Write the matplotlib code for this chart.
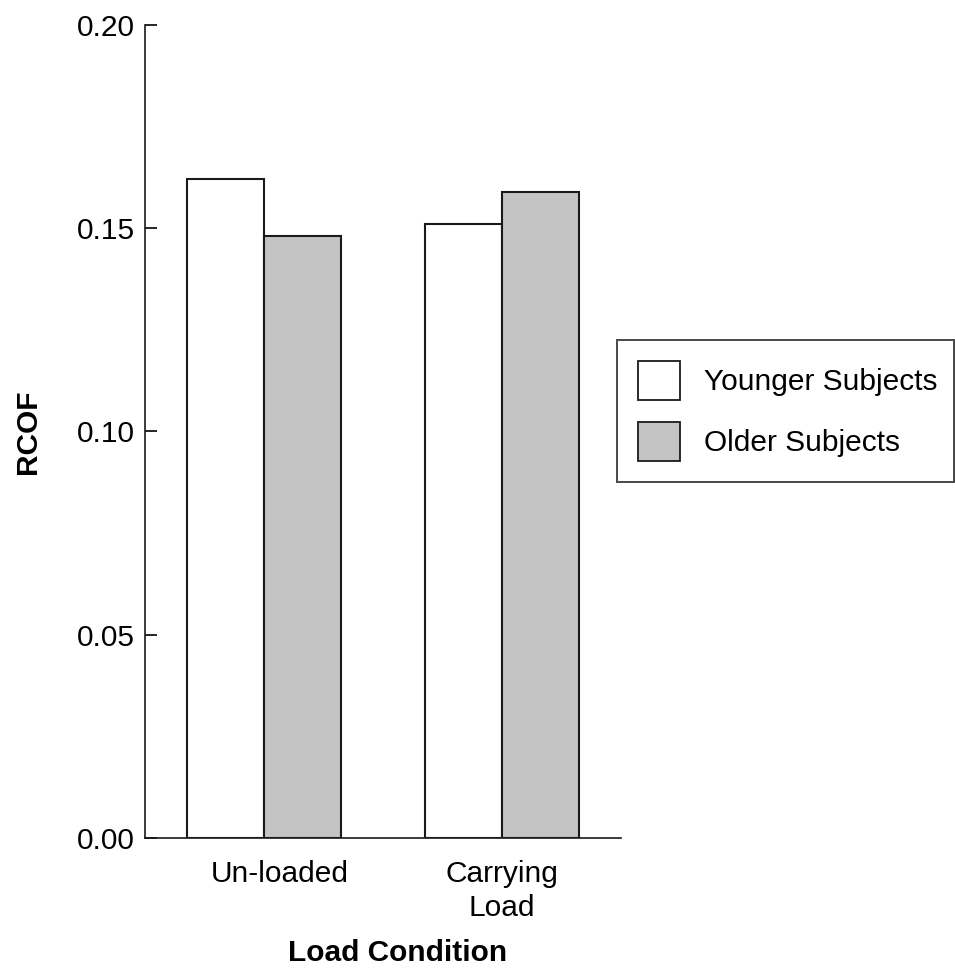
import matplotlib
matplotlib.use("Agg")
import matplotlib.pyplot as plt
import matplotlib.transforms as mtransforms
import numpy as np
from matplotlib.patches import Patch

plt.rcParams["font.family"] = ["Liberation Sans", "DejaVu Sans"]

# data
conditions = ["Un-loaded", "Carrying\nLoad"]
younger = [0.162, 0.151]
older = [0.148, 0.159]
yticks = [0.00, 0.05, 0.10, 0.15, 0.20]

fig = plt.figure(figsize=(9.55, 9.71), dpi=100)
ax = fig.add_axes([0.1518, 0.137, 0.4985, 0.8373])

x = np.arange(len(conditions))
w = 0.323
edge = "#1a1a1a"
ax.bar(x - w / 2, younger, width=w, color="white", edgecolor=edge, linewidth=1.5)
ax.bar(x + w / 2, older, width=w, color="#c4c4c4", edgecolor=edge, linewidth=1.5)

ax.set_xlim(-0.5, 1.5)
ax.set_ylim(0, 0.2)
ax.set_yticks(yticks)
ax.set_yticklabels([f"{v:.2f}" for v in yticks], fontsize=21.5)
ax.set_xticks(x)
ax.set_xticklabels(conditions, fontsize=21.5, linespacing=1.25)

ax.spines["top"].set_visible(False)
ax.spines["right"].set_visible(False)
for s in ("left", "bottom"):
    ax.spines[s].set_linewidth(1.2)
    ax.spines[s].set_color(edge)
ax.tick_params(axis="y", direction="in", length=8.5, width=1.2, pad=7, colors="black")
ax.tick_params(axis="x", length=0, pad=16, colors="black")

# the first label sits a little right of its group in the original
lbl = ax.get_xticklabels()[0]
lbl.set_transform(lbl.get_transform() + mtransforms.ScaledTranslation(0.16, 0, fig.dpi_scale_trans))

ax.set_ylabel("RCOF", fontsize=21.5, fontweight="bold", labelpad=25)
ax.set_xlabel("Load Condition", fontsize=21.5, fontweight="bold", va="center")
ax.xaxis.set_label_coords(0.531, -0.1415)

handles = [Patch(facecolor="white", edgecolor=edge, linewidth=1.3, label="Younger Subjects"),
           Patch(facecolor="#c4c4c4", edgecolor=edge, linewidth=1.3, label="Older Subjects")]
leg = fig.legend(handles=handles, loc="upper left", bbox_to_anchor=(0.646, 0.5, 0.353, 0.1498),
                 mode="expand", fontsize=21.5, frameon=True, fancybox=False, borderpad=0.7,
                 handlelength=1.4, handleheight=1.65, handletextpad=0.8,
                 labelspacing=0.72, borderaxespad=0)
leg.get_frame().set_edgecolor(edge)
leg.get_frame().set_linewidth(1.4)

fig.savefig("out.png", dpi=100)
